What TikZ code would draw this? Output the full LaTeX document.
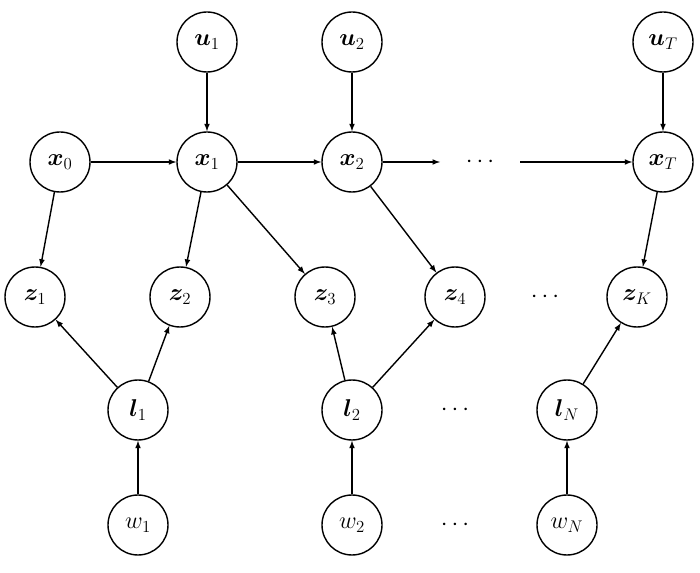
\documentclass[tikz,border=0pt]{standalone}
\usepackage{bm}
\begin{document}
\begin{tikzpicture}[x=0.03cm,y=-0.03cm,
  v/.style={circle,draw,line width=1.2pt,minimum size=1.8cm,inner sep=0pt,font=\fontsize{22}{26}\selectfont},
  e/.style={-latex,line width=1.2pt},
  d/.style={font=\fontsize{22}{26}\selectfont}]
\useasboundingbox (0,0) rectangle (700,573);
\node[v] (u1) at (207,42) {$\bm{u}_1$};
\node[v] (u2) at (352,42) {$\bm{u}_2$};
\node[v] (uT) at (663,42) {$\bm{u}_T$};
\node[v] (x0) at (60,162) {$\bm{x}_0$};
\node[v] (x1) at (207,162) {$\bm{x}_1$};
\node[v] (x2) at (352,162) {$\bm{x}_2$};
\node[d] (xd) at (480,162) {$\cdots$};
\node[v] (xT) at (663,162) {$\bm{x}_T$};
\node[v] (z1) at (35,297) {$\bm{z}_1$};
\node[v] (z2) at (180,297) {$\bm{z}_2$};
\node[v] (z3) at (325,297) {$\bm{z}_3$};
\node[v] (z4) at (455,297) {$\bm{z}_4$};
\node[d] (zd) at (545,297) {$\cdots$};
\node[v] (zK) at (637,297) {$\bm{z}_K$};
\node[v] (l1) at (138,410) {$\bm{l}_1$};
\node[v] (l2) at (352,410) {$\bm{l}_2$};
\node[d] (ld) at (455,410) {$\cdots$};
\node[v] (lN) at (567,410) {$\bm{l}_N$};
\node[v] (w1) at (138,525) {$w_1$};
\node[v] (w2) at (352,525) {$w_2$};
\node[d] (wd) at (455,525) {$\cdots$};
\node[v] (wN) at (567,525) {$w_N$};
\coordinate (a1) at (440,162);
\coordinate (a2) at (520,162);
\draw[e] (u1)--(x1); \draw[e] (u2)--(x2); \draw[e] (uT)--(xT);
\draw[e] (x0)--(x1); \draw[e] (x1)--(x2); \draw[e] (x2)--(a1); \draw[e] (a2)--(xT);
\draw[e] (x0)--(z1); \draw[e] (x1)--(z2); \draw[e] (x1)--(z3); \draw[e] (x2)--(z4); \draw[e] (xT)--(zK);
\draw[e] (l1)--(z1); \draw[e] (l1)--(z2); \draw[e] (l2)--(z3); \draw[e] (l2)--(z4); \draw[e] (lN)--(zK);
\draw[e] (w1)--(l1); \draw[e] (w2)--(l2); \draw[e] (wN)--(lN);
\end{tikzpicture}
\end{document}
